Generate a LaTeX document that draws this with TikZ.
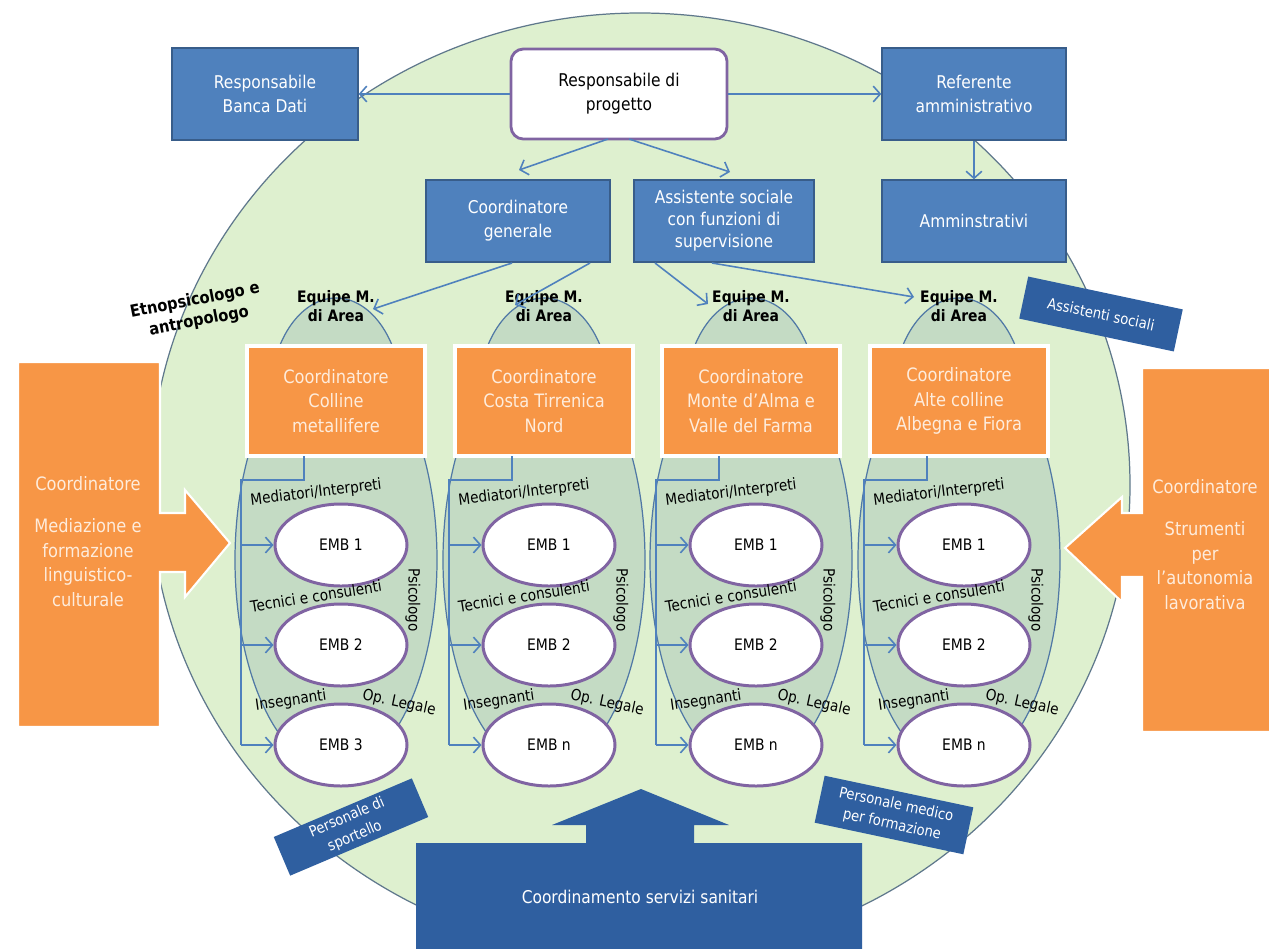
\documentclass[tikz,border=0pt]{standalone}
\usepackage{fontspec}
\setmainfont{DejaVu Sans}[FakeStretch=0.88]
\usetikzlibrary{arrows.meta,calc,shapes.geometric}
\definecolor{bgc}{RGB}{222,240,207}
\definecolor{bgline}{RGB}{95,120,140}
\definecolor{colfill}{RGB}{196,219,196}
\definecolor{colline}{RGB}{80,120,165}
\definecolor{blueA}{RGB}{79,129,189}
\definecolor{blueB}{RGB}{56,93,138}
\definecolor{blueD}{RGB}{47,95,160}
\definecolor{orangeA}{RGB}{247,150,70}
\definecolor{orText}{RGB}{254,236,220}
\definecolor{purpleA}{RGB}{128,100,162}
\newcommand{\pxu}{0.02cm}
\tikzset{
  bluebox/.style={rectangle, fill=blueA, draw=blueB, line width=0.8pt, text=white, align=center,
    font=\fontsize{10}{13.5}\selectfont, inner sep=2pt},
  darkbox/.style={rectangle, fill=blueD, text=white, align=center,
    font=\fontsize{8.5}{11.5}\selectfont, inner sep=2pt},
  orbox/.style={rectangle, fill=orangeA, draw=white, line width=2.2pt, text=orText, align=center,
    font=\fontsize{10.5}{14}\selectfont, minimum width=178*\pxu, minimum height=110*\pxu},
  embnode/.style={ellipse, fill=white, draw=purpleA, line width=1.7pt, minimum width=132*\pxu,
    minimum height=82*\pxu, font=\fontsize{9}{11}\selectfont, inner sep=0pt},
  conn/.style={draw=blueA, line width=0.9pt},
  carr/.style={-{Straight Barb[length=4pt,width=9pt,line width=0.9pt]}},
  lab/.style={font=\fontsize{8.8}{10}\selectfont, inner sep=0pt},
  eqlab/.style={font=\bfseries\fontsize{9}{10.5}\selectfont, align=center, inner sep=0pt},
  bigtext/.style={text=orText, align=center, font=\fontsize{10.5}{14}\selectfont, inner sep=0pt}
}
\begin{document}
\begin{tikzpicture}[x=0.02cm,y=-0.02cm]
\useasboundingbox (0,0) rectangle (1269,948);
\fill[white] (0,0) rectangle (1269,948);
% big background ellipse
\draw[fill=bgc, draw=bgline, line width=0.7pt] (640,485) ellipse [x radius=490*\pxu, y radius=472*\pxu];

% top boxes
\node[bluebox, minimum width=186*\pxu, minimum height=92*\pxu] (banca) at (265,94) {Responsabile\\Banca Dati};
\node[rectangle, rounded corners=7pt, fill=white, draw=purpleA, line width=1.6pt, align=center,
  font=\fontsize{10}{13.5}\selectfont, minimum width=216*\pxu, minimum height=90*\pxu] (prog) at (619,94) {Responsabile di\\progetto};
\node[bluebox, minimum width=184*\pxu, minimum height=92*\pxu] (refer) at (974,94) {Referente\\amministrativo};
\node[bluebox, minimum width=184*\pxu, minimum height=82*\pxu] (amm) at (974,221) {Amminstrativi};
\node[bluebox, minimum width=184*\pxu, minimum height=82*\pxu] (cgen) at (518,221) {Coordinatore\\generale};
\node[bluebox, minimum width=180*\pxu, minimum height=82*\pxu, font=\fontsize{10}{12.5}\selectfont] (assist) at (724,221) {Assistente sociale\\con funzioni di\\supervisione};

\draw[conn,carr] (prog.west) -- (banca.east);
\draw[conn,carr] (prog.east) -- (refer.west);
\draw[conn,carr] (refer.south) -- (amm.north);
\coordinate (pa) at (608,139);
\coordinate (pb) at (629,139);
\coordinate (pta) at (519,170);
\coordinate (ptb) at (730,172);
\draw[conn,carr] (pa) -- (pta);
\draw[conn,carr] (pb) -- (ptb);

% columns
\foreach \i/\c/\t/\n in {1/336/{Coordinatore\\Colline\\metallifere}/3,
                         2/544/{Coordinatore\\Costa Tirrenica\\Nord}/n,
                         3/751/{Coordinatore\\Monte d'Alma e\\Valle del Farma}/n,
                         4/959/{Coordinatore\\Alte colline\\Albegna e Fiora}/n}{
  \draw[fill=colfill, draw=colline, line width=0.7pt] (\c,398) ellipse [x radius=66*\pxu, y radius=100*\pxu];
  \draw[fill=colfill, draw=colline, line width=0.7pt] (\c,560) ellipse [x radius=101*\pxu, y radius=210*\pxu];
  \node[orbox] (box\i) at (\c,401) {\t};
  \node[eqlab] (eq\i) at (\c,306) {Equipe M.\\di Area};
  \node[embnode] (emb\i a) at (\c+5,545) {EMB 1};
  \node[embnode] (emb\i b) at (\c+5,645) {EMB 2};
  \node[embnode] (emb\i c) at (\c+5,745) {EMB \n};
  \coordinate (ts\i) at (\c-32,456);
  \coordinate (tc\i) at (\c-95,480);
  \coordinate (ka\i) at (\c-95,545);
  \coordinate (kb\i) at (\c-95,645);
  \coordinate (kc\i) at (\c-95,745);
  \draw[conn] (ts\i) |- (tc\i) -- (kc\i);
  \draw[conn,carr] (ka\i) -- (emb\i a.west);
  \draw[conn,carr] (kb\i) -- (emb\i b.west);
  \draw[conn,carr] (kc\i) -- (emb\i c.west);
  \node[lab, rotate=7] (lm\i) at (\c-20,493) {Mediatori/Interpreti};
  \node[lab, rotate=9] (lt\i) at (\c-20,596) {Tecnici e consulenti};
  \node[lab, rotate=-90] (lp\i) at (\c+77,600) {Psicologo};
  \node[lab, rotate=8] (li\i) at (\c-45,701) {Insegnanti};
  \node[lab, rotate=-12] (lo\i) at (\c+63,703) {Op. Legale};
}

% arrows to the area teams
\coordinate (ga) at (512,263);
\coordinate (gb) at (590,263);
\coordinate (ea) at (373,309);
\coordinate (eb) at (515,305);
\coordinate (sa) at (655,263);
\coordinate (sb) at (712,263);
\coordinate (ec) at (708,304);
\coordinate (ed) at (914,297);
\draw[conn,carr] (ga) -- (ea);
\draw[conn,carr] (gb) -- (eb);
\draw[conn,carr] (sa) -- (ec);
\draw[conn,carr] (sb) -- (ed);

\node[font=\bfseries\fontsize{9.5}{12}\selectfont, align=center, rotate=11, inner sep=0pt] (etno) at (197,311) {Etnopsicologo e\\antropologo};

% left orange arrow
\draw[fill=orangeA, draw=white, line width=1.2pt] (18,362) -- (160,362) -- (160,513) -- (185,513) -- (185,490)
  -- (230,543) -- (185,597) -- (185,572) -- (160,572) -- (160,727) -- (18,727) -- cycle;
\node[bigtext, anchor=north] (lcoord) at (88,476) {Coordinatore\\[10pt]Mediazione e\\formazione\\linguistico-\\culturale};

% right orange arrow
\draw[fill=orangeA, draw=white, line width=1.2pt] (1280,368) -- (1142,368) -- (1142,513) -- (1122,513) -- (1122,497)
  -- (1065,548) -- (1122,602) -- (1122,577) -- (1142,577) -- (1142,732) -- (1280,732) -- cycle;
\node[bigtext, anchor=north] (rcoord) at (1205,479) {Coordinatore\\[10pt]Strumenti\\per\\l'autonomia\\lavorativa};

% rotated dark labels
\node[darkbox, rotate=-12, minimum width=158*\pxu, minimum height=43*\pxu] (asoc) at (1101,314) {Assistenti sociali};
\node[darkbox, rotate=23, minimum width=150*\pxu, minimum height=42*\pxu] (psport) at (351,827) {Personale di\\sportello};
\node[darkbox, rotate=-12, minimum width=152*\pxu, minimum height=48*\pxu] (pmed) at (894,815) {Personale medico\\per formazione};

% bottom arrow
\fill[blueD] (416,960) -- (416,843) -- (586,843) -- (586,825) -- (552,825) -- (641,789) -- (729,825)
  -- (694,825) -- (694,843) -- (862,843) -- (862,960) -- cycle;
\node[text=white, font=\fontsize{10}{12}\selectfont, inner sep=0pt] (csan) at (640,897) {Coordinamento servizi sanitari};
\end{tikzpicture}
\end{document}
